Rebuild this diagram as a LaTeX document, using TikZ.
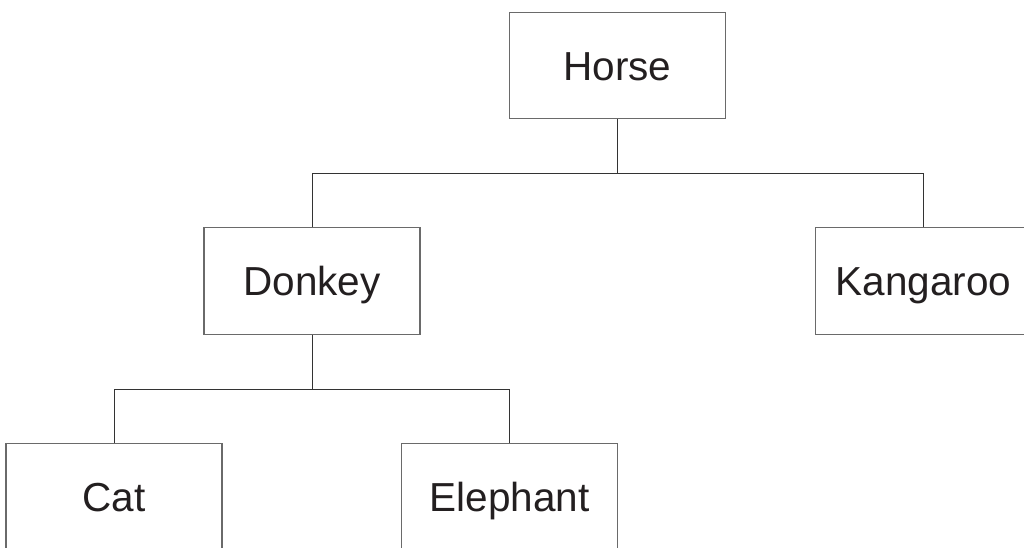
\documentclass[tikz,border=0pt]{standalone}
\usepackage{fontspec}
\setmainfont{Liberation Sans}
\definecolor{boxline}{HTML}{6A6A6A}
\definecolor{conline}{HTML}{333333}
\definecolor{txt}{HTML}{231F20}
\begin{document}
\begin{tikzpicture}[x=1pt,y=1pt,
  treebox/.style={draw=boxline, line width=1.1pt, minimum width=216pt, minimum height=106.5pt, inner sep=0pt, text height=38pt, text depth=8.4pt, text=txt, font=\fontsize{40.5}{48}\selectfont},
  conn/.style={draw=conline, line width=1pt}]
\useasboundingbox (0,0) rectangle (1024,-547);
\clip (0,0) rectangle (1024,-547);
\fill[white] (0,0) rectangle (1024,-547);
\node[treebox] (horse) at (617.3,-65.5) {Horse};
\node[treebox] (donkey) at (312,-281) {Donkey};
\node[treebox] (kangaroo) at (923.3,-281) {Kangaroo};
\node[treebox] (cat) at (114,-496.5) {Cat};
\node[treebox] (elephant) at (509.7,-496.5) {Elephant};
\coordinate (hj) at (617.3,-173.3);
\coordinate (dj) at (312,-389.5);
\draw[conn] (horse.south) -- (hj);
\draw[conn] (donkey.north) |- (hj) -| (kangaroo.north);
\draw[conn] (donkey.south) -- (dj);
\draw[conn] (cat.north) |- (dj) -| (elephant.north);
\end{tikzpicture}
\end{document}
